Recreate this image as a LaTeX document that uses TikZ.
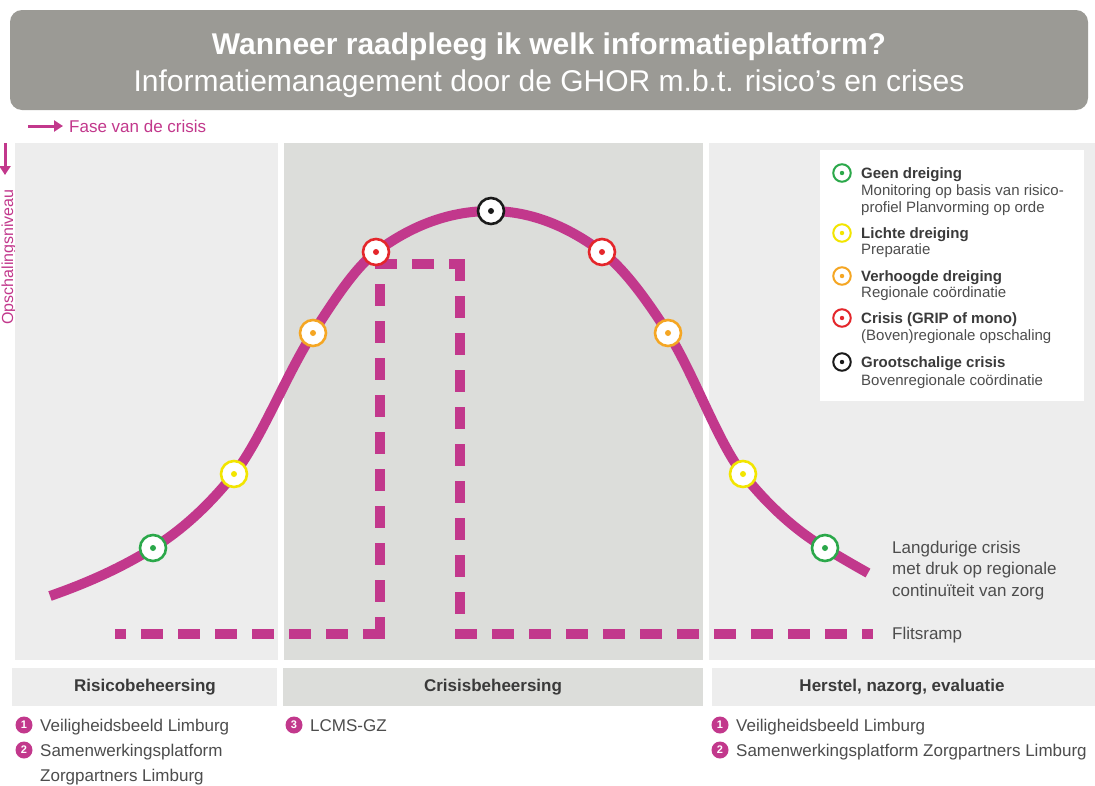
\documentclass[tikz,border=0pt]{standalone}
\usepackage{fontspec}
\setmainfont{Liberation Sans}
\usetikzlibrary{arrows.meta}
\definecolor{mag}{HTML}{C2388C}
\definecolor{ttlgray}{HTML}{9B9A95}
\definecolor{panelA}{HTML}{EDEDED}
\definecolor{panelB}{HTML}{DCDDDA}
\definecolor{txt}{HTML}{4D4D4D}
\definecolor{hdr}{HTML}{3A3A3A}
\definecolor{cgreen}{HTML}{2BA84A}
\definecolor{cyellow}{HTML}{F2E500}
\definecolor{corange}{HTML}{F5A623}
\definecolor{cred}{HTML}{E4262B}
\definecolor{cblack}{HTML}{1A1A1A}
\tikzset{
  lvl/.style={circle, draw=#1, line width=2.6pt, fill=white, minimum size=26pt, inner sep=0pt,
    path picture={\fill[#1] (path picture bounding box.center) circle[radius=3pt];}},
  lvs/.style={circle, draw=#1, line width=2pt, fill=white, minimum size=17.5pt, inner sep=0pt,
    path picture={\fill[#1] (path picture bounding box.center) circle[radius=2.2pt];}},
  numb/.style={circle, fill=mag, text=white, minimum size=17pt, inner sep=0pt,
    font=\fontsize{11pt}{11pt}\selectfont\bfseries},
  body/.style={text=txt, inner sep=0pt, font=\fontsize{17pt}{20pt}\selectfont},
  lgtitle/.style={text=hdr, inner sep=0pt, anchor=base west, font=\fontsize{15pt}{17pt}\selectfont\bfseries},
  lgsub/.style={text=txt, inner sep=0pt, anchor=base west, font=\fontsize{15pt}{17pt}\selectfont},
  hdrtxt/.style={text=hdr, inner sep=0pt, font=\fontsize{17pt}{20pt}\selectfont\bfseries},
  flit/.style={mag, line width=10pt, line cap=rect, dash pattern=on 12pt off 25pt},
}
\begin{document}
\begin{tikzpicture}[x=1pt,y=-1pt]
\useasboundingbox (0,0) rectangle (1095,785);
\fill[white] (0,0) rectangle (1095,785);
% title
\fill[ttlgray, rounded corners=12pt] (10,10) rectangle (1088,110);
\node[text=white, inner sep=0pt, font=\fontsize{30pt}{36pt}\selectfont\bfseries] (t1) at (549,47) {Wanneer raadpleeg ik welk informatieplatform?};
\node[text=white, inner sep=0pt, font=\fontsize{30pt}{36pt}\selectfont] (t2) at (549,84) {Informatiemanagement door de GHOR m.b.t. risico’s en crises};
% phase arrow
\coordinate (fa0) at (28,126);
\coordinate (fa1) at (63,126);
\draw[mag, line width=3pt, -{Triangle[length=9pt,width=11pt]}] (fa0) -- (fa1);
\node[text=mag, inner sep=0pt, anchor=west, font=\fontsize{17pt}{20pt}\selectfont] (fase) at (69,126) {Fase van de crisis};
% level arrow
\coordinate (la0) at (5,143);
\coordinate (la1) at (5,175);
\draw[mag, line width=3pt, -{Triangle[length=9pt,width=11pt]}] (la0) -- (la1);
\node[text=mag, inner sep=0pt, rotate=90, anchor=base, font=\fontsize{16pt}{18pt}\selectfont] (opsch) at (13,257) {Opschalingsniveau};
% panels
\fill[panelA] (15,143) rectangle (278,660);
\fill[panelB] (284,143) rectangle (703,660);
\fill[panelA] (709,143) rectangle (1095,660);
% header boxes
\fill[panelA] (12,668) rectangle (277,706);
\fill[panelB] (283,668) rectangle (703,706);
\fill[panelA] (712,668) rectangle (1095,706);
\node[hdrtxt] (h1) at (145,687) {Risicobeheersing};
\node[hdrtxt] (h2) at (493,687) {Crisisbeheersing};
\node[hdrtxt] (h3) at (902,687) {Herstel, nazorg, evaluatie};
% flitsramp dashed path
\coordinate (f0) at (120,634);
\coordinate (f1) at (380,634);
\coordinate (f2) at (380,264);
\coordinate (f3) at (460,264);
\coordinate (f4) at (460,634);
\coordinate (f5) at (868,634);
\draw[flit] (f1) -- (f0);
\draw[flit] (f1) -- (f2);
\draw[flit] (f2) -- (f3);
\draw[flit] (f3) -- (f4);
\draw[flit] (f4) -- (f5);
% curve
\coordinate (c0) at (50,596);
\coordinate (pg1) at (153,548);
\coordinate (py1) at (234,474);
\coordinate (po1) at (313,333);
\coordinate (pr1) at (376,252);
\coordinate (pb) at (491,211);
\coordinate (pr2) at (602,252);
\coordinate (po2) at (668,333);
\coordinate (py2) at (743,474);
\coordinate (pg2) at (825,548);
\coordinate (c1) at (868,573);
\draw[mag, line width=10pt]
  (c0) .. controls +(34.3,-12) and +(-34.3,21.3) .. (pg1)
       .. controls +(27,-16.7) and +(-27,33.75) .. (py1)
       .. controls +(26.3,-32.9) and +(-26.3,40.8) .. (po1)
       .. controls +(21,-32.6) and +(-21,15.75) .. (pr1)
       .. controls +(38.3,-28.7) and +(-38.3,0) .. (pb)
       .. controls +(37,0) and +(-37,-27.75) .. (pr2)
       .. controls +(22,16.5) and +(-22,-34.1) .. (po2)
       .. controls +(25,38.75) and +(-25,-31.25) .. (py2)
       .. controls +(27.3,34.2) and +(-27.3,-16.4) .. (pg2)
       .. controls +(14.3,8.6) and +(-14.3,-7.9) .. (c1);
\node[lvl=cgreen] (g1) at (pg1) {};
\node[lvl=cyellow] (y1) at (py1) {};
\node[lvl=corange] (o1) at (po1) {};
\node[lvl=cred] (r1) at (pr1) {};
\node[lvl=cblack] (b1) at (pb) {};
\node[lvl=cred] (r2) at (pr2) {};
\node[lvl=corange] (o2) at (po2) {};
\node[lvl=cyellow] (y2) at (py2) {};
\node[lvl=cgreen] (g2) at (pg2) {};
% right labels
\node[body, anchor=base west] (l1) at (892,553) {Langdurige crisis};
\node[body, anchor=base west] (l2) at (892,574) {met druk op regionale};
\node[body, anchor=base west] (l3) at (892,596) {continuïteit van zorg};
\node[body, anchor=base west] (l4) at (892,639) {Flitsramp};
% legend
\fill[white] (820,150) rectangle (1084,401);
\node[lvs=cgreen] (lg1) at (842,173) {};
\node[lgtitle] (lt1) at (861,178) {Geen dreiging};
\node[lgsub] (ls1a) at (861,195) {Monitoring op basis van risico-};
\node[lgsub] (ls1b) at (861,212) {profiel Planvorming op orde};
\node[lvs=cyellow] (lg2) at (842,233) {};
\node[lgtitle] (lt2) at (861,238) {Lichte dreiging};
\node[lgsub] (ls2) at (861,254) {Preparatie};
\node[lvs=corange] (lg3) at (842,276) {};
\node[lgtitle] (lt3) at (861,281) {Verhoogde dreiging};
\node[lgsub] (ls3) at (861,297) {Regionale coördinatie};
\node[lvs=cred] (lg4) at (842,318) {};
\node[lgtitle] (lt4) at (861,323) {Crisis (GRIP of mono)};
\node[lgsub] (ls4) at (861,340) {(Boven)regionale opschaling};
\node[lvs=cblack] (lg5) at (842,362) {};
\node[lgtitle] (lt5) at (861,367) {Grootschalige crisis};
\node[lgsub] (ls5) at (861,385) {Bovenregionale coördinatie};
% bottom lists
\node[numb] (n1a) at (24,725) {1};
\node[body, anchor=base west] (b1a) at (40,731) {Veiligheidsbeeld Limburg};
\node[numb] (n2a) at (24,750) {2};
\node[body, anchor=base west] (b2a) at (40,756) {Samenwerkingsplatform};
\node[body, anchor=base west] (b2b) at (40,781) {Zorgpartners Limburg};
\node[numb] (n3) at (294,725) {3};
\node[body, anchor=base west] (b3) at (310,731) {LCMS-GZ};
\node[numb] (n1c) at (720,725) {1};
\node[body, anchor=base west] (b1c) at (736,731) {Veiligheidsbeeld Limburg};
\node[numb] (n2c) at (720,750) {2};
\node[body, anchor=base west] (b2c) at (736,756) {Samenwerkingsplatform Zorgpartners Limburg};
\end{tikzpicture}
\end{document}
